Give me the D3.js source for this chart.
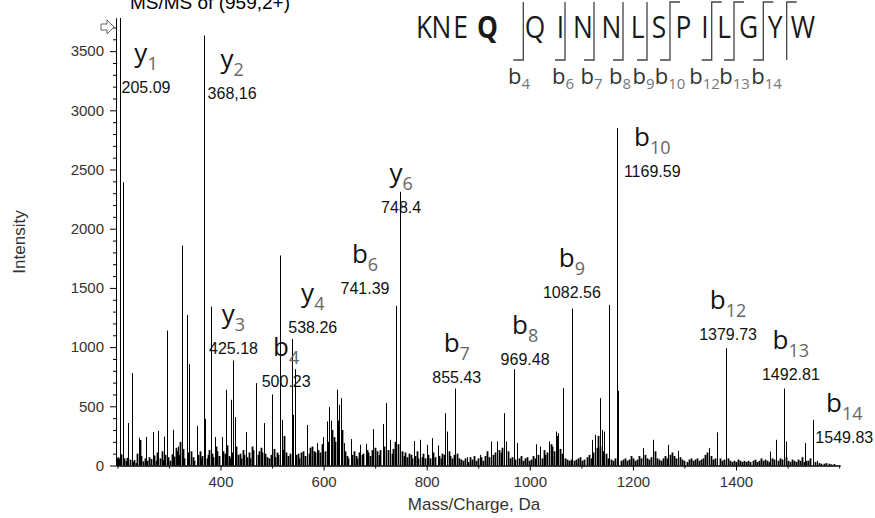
<!DOCTYPE html>
<html>
<head>
<meta charset="utf-8">
<script src="https://cdn.jsdelivr.net/npm/d3@7"></script>
<style>
  body { margin: 0; background: #fff; }
  svg { display: block; font-family: "Liberation Sans", Arial, sans-serif; }
</style>
</head>
<body>
<svg class="chart" width="875" height="518"></svg>
<script>
//------------------------------------------------------------------------------
//Data
//------------------------------------------------------------------------------
var peakMz = [
  205.09, 210.3, 221.1, 227.7, 241.9, 255.5, 268.5, 279.3, 290.4, 296.8,
  307.3, 317.6, 324.7, 334.4, 339.5, 353.8, 368.16, 370.5, 381.0, 389.3,
  402.3, 410.1, 420.5, 425.18, 427.6, 449.5, 468.9, 484.4, 500.23, 515.4,
  518.7, 538.26, 541.2, 544.5, 567.2, 587.8, 599.4, 606.0, 611.0, 613.8,
  626.6, 630.5, 633.2, 639.6, 652.6, 670.6, 681.7, 696.4, 714.6, 721.0,
  728.8, 741.39, 748.4, 775.4, 787.0, 800.0, 809.7, 821.3, 835.5, 838.8,
  855.43, 877.6, 903.4, 924.2, 937.0, 950.5, 953.8, 969.48, 975.7, 1012.0,
  1019.8, 1037.8, 1050.8, 1055.3, 1065.0, 1082.56, 1120.0, 1126.5, 1136.2, 1139.5,
  1143.9, 1154.2, 1169.59, 1171.6, 1220.2, 1238.4, 1268.6, 1288.0, 1348.2, 1364.0,
  1379.73, 1466.0, 1477.0, 1492.81, 1497.0, 1533.9, 1549.83, 1556.8
];
var peakInt = [
  3780, 2393, 358, 780, 234, 242, 282, 293, 245, 1140,
  301, 160, 1858, 1271, 856, 335, 3632, 394, 1343, 240,
  240, 640, 555, 887, 409, 282, 696, 358, 600, 1774,
  386, 1068, 428, 814, 343, 189, 240, 372, 493, 380,
  640, 513, 569, 189, 223, 175, 183, 307, 350, 527,
  217, 1349, 2312, 208, 217, 175, 231, 169, 442, 287,
  650, 70, 90, 203, 203, 442, 203, 814, 190, 180,
  160, 203, 287, 273, 654, 1326, 217, 259, 569, 301,
  287, 1357, 2850, 631, 147, 217, 175, 124, 147, 280,
  991, 118, 217, 650, 203, 189, 386, 40
];

// small background peaks [m/z, intensity]
var noisePeaks = [
  [199,60],[201,70],[203,55],[207,95],[212,60],[216,40],[219,65],[224,50],[230,30],[233,45],[236,20],
  [239,100],[243,215],[246,80],[250,35],[253,60],[258,40],[262,70],[265,55],[271,85],[274,40],[277,110],
  [283,60],[286,120],[289,45],[293,90],[299,70],[302,40],[305,95],[310,75],[313,150],[315,120],[320,90],
  [322,200],[327,140],[330,60],[336,110],[343,120],[346,70],[349,40],[357,90],[360,120],[362,60],[365,80],
  [373,60],[376,90],[378,130],[384,100],[386,70],[392,160],[394,120],[397,80],[405,120],[408,100],[413,170],
  [416,80],[419,60],[422,110],[430,160],[434,90],[437,100],[440,60],[443,130],[446,90],[452,70],[455,110],
  [458,60],[461,160],[464,130],[472,90],[475,120],[478,150],[481,110],[487,100],[490,70],[494,60],[497,90],
  [503,140],[506,70],[509,110],[512,90],[521,130],[524,250],[527,110],[531,80],[534,100],[547,90],[550,100],
  [553,60],[557,110],[560,120],[563,80],[571,100],[574,150],[578,160],[581,120],[584,110],[590,130],[593,110],
  [596,180],[603,120],[608,200],[617,300],[620,240],[623,200],[628,380],[636,300],[642,120],[645,80],[648,60],
  [655,90],[658,120],[662,80],[665,60],[668,110],[674,90],[677,100],[684,130],[687,110],[690,80],[693,130],
  [700,150],[704,120],[707,90],[710,130],[717,160],[724,130],[732,100],[735,140],[738,200],[744,180],[752,120],
  [755,80],[758,110],[762,70],[766,100],[769,90],[772,60],[778,80],[781,120],[784,60],[790,70],[793,100],
  [796,60],[803,90],[806,60],[813,110],[816,70],[824,80],[827,60],[830,100],[833,90],[843,120],[846,80],
  [849,60],[852,90],[858,100],[862,60],[866,50],[870,40],[874,60],[880,30],[884,70],[888,50],[891,80],
  [895,40],[899,60],[906,70],[910,40],[913,80],[916,120],[920,70],[928,90],[932,110],[940,130],[944,110],
  [947,150],[958,120],[962,60],[966,70],[972,50],[979,60],[982,80],[986,40],[990,60],[994,70],[998,40],
  [1003,50],[1006,80],[1010,60],[1016,90],[1023,60],[1027,130],[1030,90],[1034,110],[1041,180],[1044,160],
  [1047,120],[1053,250],[1058,140],[1062,100],[1068,60],[1072,50],[1076,40],[1080,50],[1086,40],[1090,50],
  [1094,60],[1098,70],[1102,40],[1106,50],[1110,70],[1114,90],[1118,60],[1122,110],[1130,150],[1133,250],
  [1137,160],[1142,120],[1148,100],[1151,60],[1158,50],[1162,40],[1166,60],[1176,40],[1180,50],[1184,60],
  [1188,40],[1192,50],[1196,80],[1200,60],[1204,40],[1208,50],[1212,80],[1216,60],[1224,90],[1228,60],
  [1232,50],[1236,70],[1242,120],[1246,60],[1250,50],[1254,40],[1258,60],[1262,80],[1266,60],[1272,90],
  [1276,110],[1280,80],[1284,60],[1292,70],[1296,50],[1300,40],[1304,30],[1308,50],[1312,60],[1316,40],
  [1320,50],[1324,60],[1328,40],[1332,50],[1336,60],[1340,90],[1344,110],[1352,80],[1356,50],[1360,60],
  [1368,60],[1372,40],[1376,50],[1384,60],[1388,40],[1392,30],[1396,40],[1400,30],[1404,50],[1408,40],
  [1412,30],[1416,40],[1420,30],[1424,40],[1428,30],[1432,40],[1436,50],[1440,30],[1444,40],[1448,60],
  [1452,40],[1456,50],[1460,40],[1464,30],[1470,60],[1474,50],[1482,40],[1486,60],[1490,50],[1496,70],
  [1500,40],[1504,30],[1508,50],[1512,40],[1516,30],[1520,50],[1524,40],[1528,70],[1532,30],[1536,40],
  [1540,40],[1544,60],[1553,30],[1560,20],[1565,15],[1570,15],[1575,20],[1580,15],[1585,10],[1590,12]
];

// annotated fragment ions
var ionName  = ["y", "y", "y", "b", "y", "b", "y", "b", "b", "b", "b", "b", "b", "b"];
var ionNum   = ["1", "2", "3", "4", "4", "6", "6", "7", "8", "9", "10", "12", "13", "14"];
var ionMz    = [205.09, 368.16, 425.18, 500.23, 538.26, 741.39, 748.4, 855.43, 969.48, 1082.56, 1169.59, 1379.73, 1492.81, 1549.83];
var ionLabel = ["205.09", "368,16", "425.18", "500.23", "538.26", "741.39", "748.4", "855.43", "969.48", "1082.56", "1169.59", "1379.73", "1492.81", "1549.83"];

// peptide sequence and fragment coverage
var sequence   = ["K", "N", "E", "Q", "Q", "I", "N", "N", "L", "S", "P", "I", "L", "G", "Y", "W"];
var bFragments = [4, 6, 7, 8, 9, 10, 12, 13, 14];
var yFragments = [1, 2, 3, 4, 6];

var yTicks = [0, 500, 1000, 1500, 2000, 2500, 3000, 3500];
var xTicks = [400, 600, 800, 1000, 1200, 1400];

//------------------------------------------------------------------------------
//Layout (label placement, pixels)
//------------------------------------------------------------------------------
// label centre offset [dx, dy] from top of the peak line
var ionLabelOffset = [[26,74.5],[28,63],[0,-6.5],[14,-7.5],[21,-6.5],[-31.5,-12],[1,21],
                      [1.5,-6],[11,-4],[-0.5,-11],[35,48.5],[2.5,-8],[7,-8.5],[31,23]];
var seqX = [424, 441.5, 460.5, 487.5, 535, 560.5, 583, 611.5, 637.5, 659, 683.5, 705, 724, 748.5, 775, 803];
var cleaveX = {4: 523.3, 6: 565, 7: 594, 8: 623, 9: 647, 10: 670, 12: 711.7, 13: 734, 14: 763.3, 15: 786.7};
var bLabelX = [519, 563, 591.5, 620, 643.5, 670, 704.5, 734.5, 766.5];

//------------------------------------------------------------------------------
//Main
//------------------------------------------------------------------------------
function main() {
  var svg = d3.select(".chart");

  var x = d3.scaleLinear().domain([197.3, 1601.7]).range([116, 840]);
  var y = d3.scaleLinear().domain([0, 3780]).range([465.5, 18]);

  drawAxes(svg, x, y);
  drawPeaks(svg, x, y);
  drawIonLabels(svg, x, y);
  drawSequence(svg);
  drawHeader(svg);
}

//------------------------------------------------------------------------------
//Axes
//------------------------------------------------------------------------------
function drawAxes(svg, x, y) {
  var yMinor = d3.range(0, 3800, 100).filter(function (v) { return v % 500 != 0; });
  var xMinor = d3.range(200, 1700, 100).filter(function (v) { return xTicks.indexOf(v) < 0; });
  var fmt = d3.format("d");

  svg.append("g")
    .attr("transform", "translate(116,0)")
    .call(d3.axisLeft(y).tickValues(yMinor).tickSize(3).tickSizeOuter(0).tickFormat(""));
  svg.append("g")
    .attr("class", "axis")
    .attr("transform", "translate(116,0)")
    .call(d3.axisLeft(y).tickValues(yTicks).tickSize(6).tickSizeOuter(0).tickPadding(6).tickFormat(fmt));

  svg.append("g")
    .attr("transform", "translate(0,465.5)")
    .call(d3.axisBottom(x).tickValues(xMinor).tickSize(3).tickSizeOuter(0).tickFormat(""));
  svg.append("g")
    .attr("class", "axis")
    .attr("transform", "translate(0,465.5)")
    .call(d3.axisBottom(x).tickValues(xTicks).tickSize(5).tickSizeOuter(0).tickPadding(6).tickFormat(fmt));

  svg.selectAll(".domain").attr("stroke", "#000");
  svg.selectAll(".tick line").attr("stroke", "#000");
  svg.selectAll(".axis text")
    .attr("font-size", "15px")
    .attr("font-family", "Liberation Sans, Arial, sans-serif")
    .attr("fill", "#333");

  svg.append("text")
    .attr("transform", "translate(25,242) rotate(-90)")
    .attr("text-anchor", "middle")
    .attr("font-size", "17px")
    .attr("fill", "#333")
    .text("Intensity");

  svg.append("text")
    .attr("x", 474)
    .attr("y", 510)
    .attr("text-anchor", "middle")
    .attr("font-size", "17px")
    .attr("fill", "#333")
    .text("Mass/Charge, Da");
}

//------------------------------------------------------------------------------
//Peaks
//------------------------------------------------------------------------------
function drawPeaks(svg, x, y) {
  var px = function (m) { return Math.round(x(m)) + 0.5; };

  svg.append("g")
    .selectAll("line")
    .data(noisePeaks)
    .enter()
    .append("line")
      .attr("x1", function (d) { return px(d[0]); })
      .attr("x2", function (d) { return px(d[0]); })
      .attr("y1", y(0))
      .attr("y2", function (d) { return y(d[1]); })
      .attr("stroke", "#000")
      .attr("stroke-width", 1.8);

  svg.append("g")
    .selectAll("line")
    .data(peakMz)
    .enter()
    .append("line")
      .attr("x1", function (d) { return px(d); })
      .attr("x2", function (d) { return px(d); })
      .attr("y1", y(0))
      .attr("y2", function (d, i) { return y(peakInt[i]); })
      .attr("stroke", "#000")
      .attr("stroke-width", 1);
}

function drawIonLabels(svg, x, y) {
  var labels = svg.append("g")
    .selectAll("g")
    .data(ionMz)
    .enter()
    .append("g")
      .attr("transform", function (d, i) {
        var top = y(peakInt[peakMz.indexOf(d)]);
        return "translate(" + (x(d) + ionLabelOffset[i][0]) + "," + (top + ionLabelOffset[i][1]) + ")";
      });

  labels.append("text")
    .attr("text-anchor", "middle")
    .attr("font-size", "16px")
    .attr("fill", "#111")
    .text(function (d, i) { return ionLabel[i]; });

  var ion = labels.append("text")
    .attr("text-anchor", "middle")
    .attr("y", -31)
    .attr("font-family", "Open Sans, sans-serif");
  ion.append("tspan")
    .attr("font-size", "26px")
    .attr("fill", "#111")
    .text(function (d, i) { return ionName[i]; });
  ion.append("tspan")
    .attr("font-size", "18px")
    .attr("dy", 8)
    .attr("fill", "#666")
    .text(function (d, i) { return ionNum[i]; });
}

//------------------------------------------------------------------------------
//Sequence header
//------------------------------------------------------------------------------
function drawSequence(svg) {
  var g = svg.append("g").attr("font-family", "Open Sans, sans-serif");

  // residues are drawn a bit condensed, like the original
  g.selectAll("text.res")
    .data(sequence)
    .enter()
    .append("text")
      .attr("class", "res")
      .attr("transform", function (d, i) { return "translate(" + seqX[i] + ",38) scale(0.85,1)"; })
      .attr("text-anchor", "middle")
      .attr("font-size", "31px")
      .attr("font-weight", function (d, i) { return i == 3 ? "bold" : "normal"; })
      .attr("fill", "#1a1a1a")
      .text(function (d) { return d; });

  // cleavage brackets: b ion foot at the bottom, y ion hook at the top
  var cuts = d3.range(1, sequence.length);
  g.selectAll("path")
    .data(cuts.filter(function (c) {
      return bFragments.indexOf(c) >= 0 || yFragments.indexOf(sequence.length - c) >= 0;
    }))
    .enter()
    .append("path")
      .attr("fill", "none")
      .attr("stroke", "#444")
      .attr("stroke-width", 1.3)
      .attr("d", function (c) {
        var cx = cleaveX[c];
        var p = "";
        if (yFragments.indexOf(sequence.length - c) >= 0) p += "M" + (cx + 10) + ",2H" + cx;
        else p += "M" + cx + ",2";
        p += "V60";
        if (bFragments.indexOf(c) >= 0) p += "H" + (cx - 10);
        return p;
      });

  var bl = g.selectAll("text.bl")
    .data(bFragments)
    .enter()
    .append("text")
      .attr("class", "bl")
      .attr("x", function (d, i) { return bLabelX[i]; })
      .attr("y", 84)
      .attr("text-anchor", "middle");
  bl.append("tspan").attr("font-size", "22px").attr("fill", "#333").text("b");
  bl.append("tspan").attr("font-size", "15px").attr("dy", 5).attr("fill", "#777")
    .text(function (d) { return d; });
}

function drawHeader(svg) {
  svg.append("text")
    .attr("x", 130)
    .attr("y", 9)
    .attr("font-size", "19px")
    .attr("fill", "#000")
    .text("MS/MS of (959,2+)");

  // small hollow arrow at the top of the intensity axis
  svg.append("path")
    .attr("d", "M101,24H107V20L114,27L107,34V30H101Z")
    .attr("fill", "#fff")
    .attr("stroke", "#666")
    .attr("stroke-width", 1);
}

main();
</script>
</body>
</html>
